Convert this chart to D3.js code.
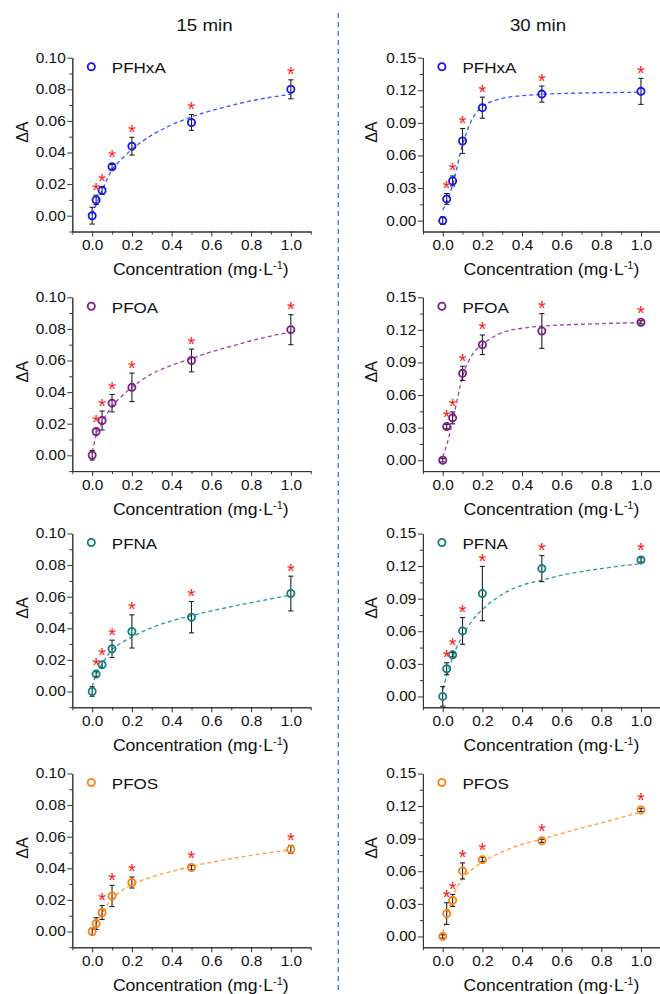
<!DOCTYPE html>
<html>
<head>
<meta charset="utf-8">
<script src="https://cdn.jsdelivr.net/npm/d3@7"></script>
<style>
  body { margin: 0; background: #fff; }
  text { font-family: "Liberation Sans", Arial, sans-serif; fill: #111; }
</style>
</head>
<body>
<div id="chart"></div>
<script>
// ---- data ----
var conc = [0, 0.02, 0.05, 0.1, 0.2, 0.5, 1.0];
var compounds = ["PFHxA", "PFOA", "PFNA", "PFOS"];
var times = ["15 min", "30 min"];

var xTicks = [0.0, 0.2, 0.4, 0.6, 0.8, 1.0];
var xMinor = [-0.1, 0.1, 0.3, 0.5, 0.7, 0.9, 1.1];
var yTicks15 = [0.00, 0.02, 0.04, 0.06, 0.08, 0.10];
var yMinor15 = [-0.01, 0.01, 0.03, 0.05, 0.07, 0.09];
var yTicks30 = [0.00, 0.03, 0.06, 0.09, 0.12, 0.15];
var yMinor30 = [0.015, 0.045, 0.075, 0.105, 0.135];

// mean dA, one list per compound
var mean15 = [
  [0, 0.010, 0.016, 0.031, 0.044, 0.059, 0.080],
  [0, 0.015, 0.022, 0.033, 0.043, 0.060, 0.0795],
  [0, 0.011, 0.017, 0.027, 0.038, 0.047, 0.062],
  [0, 0.005, 0.012, 0.0225, 0.031, 0.0405, 0.052]
];
var err15 = [
  [0.0053, 0.003, 0.0025, 0.0015, 0.0056, 0.005, 0.006],
  [0.003, 0.002, 0.006, 0.0055, 0.009, 0.0072, 0.0095],
  [0.003, 0.0015, 0.002, 0.0055, 0.0105, 0.0099, 0.011],
  [0.002, 0.0037, 0.0044, 0.0067, 0.0035, 0.0015, 0.0025]
];
var mean30 = [
  [0, 0.020, 0.0365, 0.0733, 0.104, 0.1165, 0.119],
  [0, 0.031, 0.039, 0.080, 0.1063, 0.119, 0.127],
  [0, 0.0255, 0.0384, 0.0603, 0.0947, 0.1177, 0.1257],
  [0, 0.021, 0.0332, 0.0603, 0.0707, 0.088, 0.1165]
];
var err30 = [
  [0.0035, 0.005, 0.0046, 0.0115, 0.0097, 0.0074, 0.012],
  [0.0015, 0.002, 0.0055, 0.0065, 0.009, 0.016, 0.0015],
  [0.009, 0.0055, 0.002, 0.0123, 0.025, 0.012, 0.002],
  [0.0015, 0.01, 0.0055, 0.0074, 0.002, 0.0015, 0.0015]
];
// significance stars (1 = marked)
var stars15 = [
  [0, 1, 1, 1, 1, 1, 1],
  [0, 1, 1, 1, 1, 1, 1],
  [0, 1, 1, 1, 1, 1, 1],
  [0, 0, 1, 1, 1, 1, 1]
];
var stars30 = [
  [0, 1, 1, 1, 1, 1, 1],
  [0, 1, 1, 1, 1, 1, 1],
  [0, 1, 1, 1, 1, 1, 1],
  [0, 1, 1, 1, 1, 1, 1]
];

// fitted curves, read at these x
var fitX = [0, 0.02, 0.05, 0.1, 0.15, 0.2, 0.3, 0.4, 0.5, 0.6, 0.7, 0.8, 0.9, 1.0];
var fit15 = [
  [0.001, 0.007, 0.016, 0.029, 0.036, 0.042, 0.051, 0.0575, 0.0625, 0.0665, 0.0698, 0.0727, 0.075, 0.0768],
  [0.002, 0.0125, 0.021, 0.031, 0.0375, 0.043, 0.0515, 0.057, 0.0613, 0.0655, 0.069, 0.0725, 0.0755, 0.078],
  [0.003, 0.011, 0.0175, 0.0265, 0.031, 0.0345, 0.0405, 0.0447, 0.048, 0.051, 0.0537, 0.0562, 0.0587, 0.061],
  [0.001, 0.005, 0.0117, 0.0205, 0.026, 0.0297, 0.0345, 0.038, 0.0412, 0.0438, 0.0461, 0.0482, 0.0501, 0.0517]
];
var fit30 = [
  [0.0098, 0.017, 0.033, 0.070, 0.094, 0.105, 0.1125, 0.115, 0.1163, 0.117, 0.1175, 0.1178, 0.118, 0.1182],
  [0.003, 0.014, 0.036, 0.077, 0.0975, 0.1065, 0.1175, 0.1215, 0.1235, 0.1245, 0.1252, 0.1258, 0.1263, 0.1267],
  [0.0065, 0.019, 0.036, 0.0556, 0.070, 0.080, 0.094, 0.1024, 0.107, 0.1116, 0.115, 0.1177, 0.1202, 0.1223],
  [0.003, 0.0188, 0.036, 0.053, 0.062, 0.0686, 0.0778, 0.0848, 0.0895, 0.0948, 0.0998, 0.1045, 0.1095, 0.1145]
];

// ---- look ----
var markColor = ["#1414f0", "#801a8c", "#0a8080", "#ff7f0a"];
var lineColor = ["#3a55ff", "#a040b0", "#2a9a9a", "#ff9a3a"];

var W = 660, H = 994;
var rowTop = [57.7, 297.3, 533.5, 773.5];
var plotH = 173.8;
var colX = [[72.3, 310.7], [422.9, 660.8]];
var ylabOff = [44, 46];
var SX = 1.1; // the source figure is slightly stretched horizontally

var svg = d3.select("#chart").append("svg")
  .attr("width", W).attr("height", H);

svg.append("rect").attr("width", W).attr("height", H).attr("fill", "#fff");

function label(x, y, str, size, anchor) {
  return svg.append("text")
    .attr("transform", "translate(" + x + "," + y + ") scale(" + SX + ",1)")
    .attr("text-anchor", anchor || "middle")
    .style("font-size", size + "px")
    .text(str);
}

// column titles
label(204.5, 30.7, times[0], 17);
label(538, 30.7, times[1], 17);

// separator
svg.append("line")
  .attr("x1", 338.3).attr("x2", 338.3)
  .attr("y1", 13).attr("y2", H)
  .attr("stroke", "#3b6fd6").attr("stroke-width", 1.3)
  .attr("stroke-dasharray", "5,4");

function panel(col, row) {
  var means = (col === 0 ? mean15 : mean30)[row];
  var errs = (col === 0 ? err15 : err30)[row];
  var sig = (col === 0 ? stars15 : stars30)[row];
  var fit = (col === 0 ? fit15 : fit30)[row];
  var yTicks = col === 0 ? yTicks15 : yTicks30;
  var yMinor = col === 0 ? yMinor15 : yMinor30;
  var yTop = col === 0 ? 0.10 : 0.15;

  var top = rowTop[row], bottom = top + plotH;
  var x = d3.scaleLinear().domain([-0.1, 1.1]).range(colX[col]);
  var y = d3.scaleLinear().domain([-0.01, yTop]).range([bottom, top]);

  var g = svg.append("g");

  // axes
  var yFmt = d3.format(".2f"), xFmt = d3.format(".1f");
  g.append("g").attr("transform", "translate(" + x.range()[0] + ",0)")
    .call(d3.axisLeft(y).tickValues(yTicks).tickFormat(yFmt)
      .tickSize(5).tickSizeOuter(0).tickPadding(1));
  g.append("g").attr("transform", "translate(" + x.range()[0] + ",0)")
    .call(d3.axisLeft(y).tickValues(yMinor).tickFormat("").tickSize(3).tickSizeOuter(0));
  g.append("g").attr("transform", "translate(0," + bottom + ")")
    .call(d3.axisBottom(x).tickValues(xTicks).tickFormat(xFmt)
      .tickSize(5).tickSizeOuter(0).tickPadding(3.5));
  g.append("g").attr("transform", "translate(0," + bottom + ")")
    .call(d3.axisBottom(x).tickValues(xMinor).tickFormat("").tickSize(3).tickSizeOuter(0));

  g.selectAll(".domain, .tick line").attr("stroke", "#333").attr("stroke-width", 1);
  g.selectAll(".tick text")
    .attr("transform", "scale(" + SX + ",1)")
    .style("font-size", "14px")
    .style("font-family", "'Liberation Sans', Arial, sans-serif")
    .attr("fill", "#111");

  // axis titles
  var ct = label(x.range()[0] + 128.5, bottom + 43.5, "", 16);
  ct.append("tspan").text("Concentration (mg\u00B7L");
  ct.append("tspan").attr("dy", -6).style("font-size", "10px").text("-1");
  ct.append("tspan").attr("dy", 6).text(")");

  svg.append("text")
    .attr("transform", "translate(" + (x.range()[0] - ylabOff[col]) + "," + (top + 74.5) + ") rotate(-90)")
    .attr("text-anchor", "middle")
    .style("font-size", "16px")
    .text("\u0394A");

  // fit curve
  var line = d3.line()
    .x(function(d, i) { return x(fitX[i]); })
    .y(function(d) { return y(d); })
    .curve(d3.curveMonotoneX);
  g.append("path").datum(fit)
    .attr("d", line)
    .attr("fill", "none")
    .attr("stroke", lineColor[row])
    .attr("stroke-width", 1.3)
    .attr("stroke-dasharray", "4,3");

  var pts = conc.map(function(c, i) {
    return { x: c, m: means[i], e: errs[i], s: sig[i] };
  });

  // error bars
  var eb = g.selectAll(".eb").data(pts).enter().append("g")
    .attr("stroke", "#222").attr("stroke-width", 1.1);
  eb.append("line")
    .attr("x1", function(d) { return x(d.x); }).attr("x2", function(d) { return x(d.x); })
    .attr("y1", function(d) { return y(d.m - d.e); })
    .attr("y2", function(d) { return y(d.m + d.e); });
  eb.append("line")
    .attr("x1", function(d) { return x(d.x) - 2.6; }).attr("x2", function(d) { return x(d.x) + 2.6; })
    .attr("y1", function(d) { return y(d.m + d.e); }).attr("y2", function(d) { return y(d.m + d.e); });
  eb.append("line")
    .attr("x1", function(d) { return x(d.x) - 2.6; }).attr("x2", function(d) { return x(d.x) + 2.6; })
    .attr("y1", function(d) { return y(d.m - d.e); }).attr("y2", function(d) { return y(d.m - d.e); });

  // markers
  g.selectAll(".pt").data(pts).enter().append("circle")
    .attr("cx", function(d) { return x(d.x); })
    .attr("cy", function(d) { return y(d.m); })
    .attr("r", 3.6)
    .attr("fill", "none")
    .attr("stroke", markColor[row])
    .attr("stroke-width", 1.8);

  // stars, sitting above the error bar (or the marker when the bar is short)
  g.selectAll(".star").data(pts.filter(function(d) { return d.s; })).enter().append("text")
    .attr("x", function(d) { return x(d.x); })
    .attr("y", function(d) { return Math.min(y(d.m + d.e), y(d.m) - 4) + 1.5; })
    .attr("text-anchor", "middle")
    .style("font-size", "20px")
    .style("fill", "#ff1a1a")
    .text("*");

  // legend
  g.append("circle")
    .attr("cx", x.range()[0] + 19).attr("cy", top + 9)
    .attr("r", 3.6).attr("fill", "none")
    .attr("stroke", markColor[row]).attr("stroke-width", 1.8);
  label(x.range()[0] + 39.5, top + 15.6, compounds[row], 15.5, "start");
}

for (var r = 0; r < 4; r++) {
  panel(0, r);
  panel(1, r);
}
</script>
</body>
</html>
